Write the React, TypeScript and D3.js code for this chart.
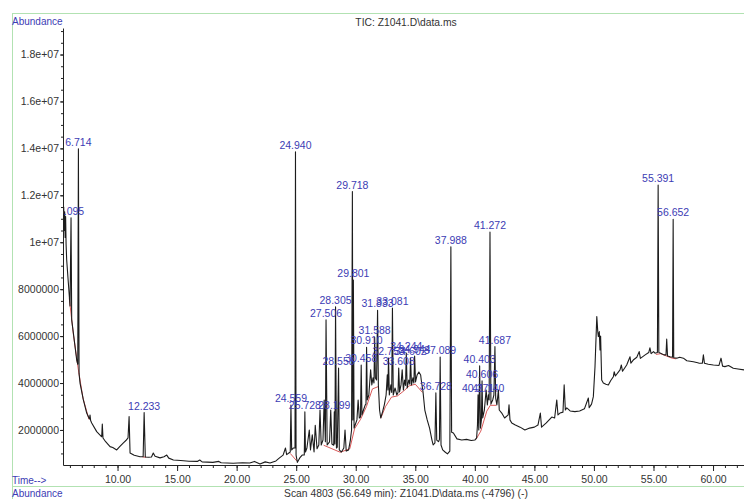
import React, {useEffect, useRef} from "react";
import * as d3 from "d3";

// labelled peaks: retention time label, time (min) and apex abundance (millions)
const peakLabels = [
  "6.095", "6.714", "12.233", "24.559", "24.940", "25.728", "27.506", "28.199",
  "28.305", "28.558", "29.718", "29.801", "30.458", "30.910", "31.588", "31.833",
  "32.753", "33.081", "33.608", "34.244", "34.602", "34.944", "36.728", "37.089",
  "37.988", "40.271", "40.403", "40.606", "41.140", "41.272", "41.687", "55.391", "56.652",
];
const peakTimes = [
  6.095, 6.714, 12.233, 24.559, 24.94, 25.728, 27.506, 28.199,
  28.305, 28.558, 29.718, 29.801, 30.458, 30.91, 31.588, 31.833,
  32.753, 33.081, 33.608, 34.244, 34.602, 34.944, 36.728, 37.089,
  37.988, 40.271, 40.403, 40.606, 41.14, 41.272, 41.687, 55.391, 56.652,
];
const peakTops = [
  11.04, 13.98, 2.74, 3.06, 13.85, 2.77, 6.69, 2.77,
  7.25, 4.64, 12.16, 8.39, 4.77, 5.52, 5.95, 7.1,
  5.07, 7.2, 4.64, 5.28, 5.07, 5.15, 3.58, 5.11,
  9.81, 3.5, 4.73, 4.09, 3.5, 10.43, 5.55, 12.44, 10.98,
];

// rest of the TIC trace, [time (min), abundance (millions)]
const traceBase: [number, number][] = [
  [5.43, 11.0], [5.48, 11.5], [5.52, 10.5], [5.56, 11.3], [5.6, 10.2], [5.64, 11.1], [5.68, 9.9],
  [5.73, 9.24], [5.87, 8.26], [6.01, 7.28], [6.15, 6.69], [6.29, 6.13], [6.57, 4.98], [6.66, 4.8],
  [6.77, 4.4], [6.85, 4.0], [7.13, 3.28], [7.41, 2.72], [7.64, 2.47], [7.69, 2.64], [7.74, 2.4],
  [7.83, 2.3], [8.25, 1.93], [8.67, 1.71], [8.72, 2.25], [8.78, 1.66], [9.0, 1.5], [9.37, 1.29],
  [9.6, 1.25], [9.93, 1.15], [10.2, 1.3], [10.49, 1.45], [10.7, 1.55], [10.88, 1.66], [10.97, 2.57],
  [11.05, 1.02], [11.4, 0.92], [11.89, 0.86], [12.15, 0.86], [12.33, 0.85], [12.6, 0.84], [12.85, 0.85],
  [13.0, 1.02], [13.15, 0.88], [13.57, 0.81], [13.9, 0.86], [14.13, 0.93], [14.3, 0.8], [14.69, 0.72],
  [15.3, 0.7], [16.0, 0.67], [16.7, 0.66], [16.9, 0.72], [17.1, 0.64], [18.0, 0.62], [18.5, 0.66],
  [18.7, 0.6], [19.7, 0.58], [20.5, 0.6], [21.1, 0.59], [21.5, 0.66], [21.96, 0.55], [22.4, 0.64],
  [22.8, 0.59], [23.3, 0.68], [23.6, 0.81], [23.9, 0.93], [24.1, 1.23], [24.2, 0.95], [24.5, 1.06],
  [24.62, 1.15], [24.75, 1.23], [24.9, 1.23], [24.99, 0.93], [25.1, 0.62], [25.3, 0.81], [25.5, 0.93],
  [25.68, 0.93], [25.78, 1.06], [25.9, 1.23], [26.1, 2.0], [26.2, 1.15], [26.35, 1.79], [26.5, 1.06],
  [26.6, 2.2], [26.75, 1.2], [26.9, 1.36], [27.0, 2.85], [27.1, 1.36], [27.25, 1.57], [27.35, 3.28],
  [27.45, 1.5], [27.6, 1.36], [27.8, 1.49], [27.9, 2.85], [28.0, 1.4], [28.15, 1.35], [28.25, 1.4],
  [28.38, 1.23], [28.45, 1.27], [28.62, 1.15], [28.8, 1.06], [29.0, 1.23], [29.1, 2.0], [29.2, 1.1],
  [29.4, 1.15], [29.55, 1.57], [29.65, 2.0], [29.76, 2.43], [29.86, 2.08], [29.95, 2.21], [30.1, 2.43],
  [30.2, 3.28], [30.3, 2.51], [30.4, 2.55], [30.52, 2.64], [30.65, 2.85], [30.8, 3.07], [30.86, 3.1],
  [30.97, 3.28], [31.1, 3.49], [31.25, 4.56], [31.35, 3.92], [31.45, 4.22], [31.53, 4.0], [31.65, 4.22],
  [31.75, 4.13], [31.9, 3.92], [32.0, 2.85], [32.1, 2.51], [32.25, 2.77], [32.4, 3.07], [32.55, 3.49],
  [32.65, 4.35], [32.7, 3.7], [32.82, 3.49], [32.95, 3.92], [33.02, 3.6], [33.15, 3.49], [33.3, 3.79],
  [33.45, 3.49], [33.55, 3.6], [33.68, 3.62], [33.8, 3.92], [33.9, 4.56], [34.0, 3.7], [34.1, 4.13],
  [34.18, 3.9], [34.32, 3.79], [34.45, 4.13], [34.54, 3.95], [34.68, 3.92], [34.8, 4.22], [34.88, 4.0],
  [35.02, 4.05], [35.15, 4.34], [35.3, 4.47], [35.45, 4.34], [35.5, 4.13], [35.65, 3.62], [35.8, 2.85],
  [36.0, 2.43], [36.2, 2.08], [36.4, 1.57], [36.5, 1.36], [36.65, 1.45], [36.8, 1.57], [36.95, 1.5],
  [37.03, 1.6], [37.16, 1.36], [37.3, 1.15], [37.5, 1.06], [37.7, 0.98], [37.9, 1.1], [38.05, 1.9],
  [38.2, 1.87], [38.5, 1.62], [38.9, 1.57], [39.3, 1.6], [39.7, 1.55], [40.0, 1.57], [40.15, 1.66],
  [40.22, 2.21], [40.33, 2.0], [40.47, 2.08], [40.55, 2.43], [40.66, 2.51], [40.8, 2.85], [40.95, 3.7],
  [41.05, 3.07], [41.2, 3.28], [41.35, 3.1], [41.5, 3.28], [41.6, 3.49], [41.75, 3.36], [41.85, 3.07],
  [41.98, 3.7], [42.05, 2.85], [42.26, 2.72], [42.5, 2.51], [42.8, 2.64], [42.87, 3.07], [42.95, 2.43],
  [43.1, 2.3], [43.4, 2.21], [43.8, 2.12], [44.2, 2.0], [44.6, 2.08], [45.0, 2.12], [45.3, 2.21],
  [45.5, 2.72], [45.6, 2.12], [46.0, 2.3], [46.46, 2.55], [46.7, 2.51], [46.88, 3.28], [46.98, 2.64],
  [47.15, 2.72], [47.4, 2.76], [47.5, 3.92], [47.6, 2.85], [47.72, 2.94], [48.0, 2.81], [48.4, 2.78],
  [48.8, 2.81], [49.2, 2.9], [49.53, 3.36], [49.6, 2.95], [49.8, 3.1], [49.95, 3.42], [50.09, 4.7],
  [50.24, 6.83], [50.32, 6.2], [50.37, 5.98], [50.45, 6.19], [50.51, 5.41], [50.56, 6.0], [50.65, 4.13],
  [50.79, 4.0], [51.0, 3.95], [51.21, 3.92], [51.4, 4.1], [51.63, 4.27], [51.7, 4.48], [51.8, 4.3],
  [52.19, 4.56], [52.3, 4.77], [52.4, 4.5], [52.75, 4.77], [53.03, 5.12], [53.1, 4.85], [53.3, 4.98],
  [53.6, 5.1], [53.8, 5.34], [53.9, 5.05], [54.3, 5.2], [54.6, 5.3], [54.7, 5.5], [54.8, 5.25],
  [55.0, 5.34], [55.13, 5.27], [55.33, 5.3], [55.45, 5.3], [55.6, 5.27], [55.88, 5.2], [56.05, 5.2],
  [56.11, 5.87], [56.18, 5.15], [56.39, 5.12], [56.6, 5.1], [56.7, 5.08], [56.95, 5.06], [57.2, 5.1],
  [57.51, 5.06], [57.8, 4.95], [58.35, 4.91], [58.8, 4.85], [59.1, 4.84], [59.19, 5.2], [59.28, 4.84],
  [59.6, 4.8], [60.03, 4.77], [60.5, 4.75], [60.67, 5.06], [60.8, 4.72], [61.0, 4.7], [61.3, 4.75],
  [61.7, 4.63], [62.1, 4.6], [62.6, 4.56],
];

// red integration baselines under the integrated peaks
const integrationBaselines: [number, number][][] = [
  [[5.95, 7.6], [6.3, 6.05], [6.7, 4.6], [7.1, 3.35], [7.6, 2.45]],
  [[12.1, 0.85], [12.4, 0.84]],
  [[24.5, 1.0], [25.05, 0.68]],
  [[27.3, 1.35], [28.0, 1.2], [28.7, 1.05], [29.5, 1.2], [29.9, 2.05], [30.4, 2.45], [30.9, 3.0], [31.4, 3.75], [31.9, 3.85]],
  [[32.1, 2.5], [32.5, 3.0], [33.0, 3.4], [33.5, 3.45], [34.0, 3.65], [34.5, 3.88], [35.0, 3.95], [35.6, 3.6]],
  [[40.1, 1.6], [40.5, 1.95], [41.0, 2.8], [41.3, 3.05], [41.8, 3.05]],
  [[55.2, 5.22], [55.6, 5.25], [56.5, 5.07], [56.9, 5.03]],
];

const xMajorTicks = [10, 15, 20, 25, 30, 35, 40, 45, 50, 55, 60];
const xTickLabels = ["10.00", "15.00", "20.00", "25.00", "30.00", "35.00", "40.00", "45.00", "50.00", "55.00", "60.00"];
const yMajorTicks = [2, 4, 6, 8, 10, 12, 14, 16, 18];
const yTickLabels = ["2000000", "4000000", "6000000", "8000000", "1e+07", "1.2e+07", "1.4e+07", "1.6e+07", "1.8e+07"];

const font = "'Liberation Sans', Arial, sans-serif";
const blue = "#3c3cb4";
const grey = "#333";
const green = "#b2e2b2";

export default function App() {
  const ref = useRef<SVGSVGElement>(null);
  const width = 744;
  const height = 499;
  const left = 63, right = 744, top = 28, bottom = 465;

  useEffect(() => {
    const svg = d3.select(ref.current);
    svg.selectAll("*").remove();

    const x = d3.scaleLinear().domain([5.42, 62.6]).range([left, right]);
    const y = d3.scaleLinear().domain([0.507, 19.13]).range([bottom, top]);

    svg.append("defs").append("clipPath").attr("id", "plot-clip")
      .append("rect").attr("x", left).attr("y", 0).attr("width", right - left).attr("height", bottom);

    // green frame
    const frame = svg.append("g").attr("stroke", green).attr("stroke-width", 1);
    frame.append("line").attr("x1", 12).attr("x2", width).attr("y1", 13.5).attr("y2", 13.5);
    frame.append("line").attr("x1", 12.5).attr("x2", 12.5).attr("y1", 13).attr("y2", height);
    frame.append("line").attr("x1", 12).attr("x2", width).attr("y1", 486.5).attr("y2", 486.5);

    // axes
    const xMinor = svg.append("g").attr("transform", `translate(0,${bottom})`)
      .call(d3.axisBottom(x).tickValues(d3.range(6, 63)).tickSize(3).tickSizeOuter(0).tickFormat(() => ""));
    xMinor.select(".domain").remove();
    const xAxis = svg.append("g").attr("transform", `translate(0,${bottom})`)
      .call(d3.axisBottom(x).tickValues(xMajorTicks).tickSize(6).tickSizeOuter(0).tickPadding(5)
        .tickFormat((d, i) => xTickLabels[i]));

    const yMinor = svg.append("g").attr("transform", `translate(${left},0)`)
      .call(d3.axisLeft(y).tickValues(d3.range(1, 19.1, 0.5)).tickSize(2).tickSizeOuter(0).tickFormat(() => ""));
    yMinor.select(".domain").remove();
    const yAxis = svg.append("g").attr("transform", `translate(${left},0)`)
      .call(d3.axisLeft(y).tickValues(yMajorTicks).tickSize(3).tickSizeOuter(0).tickPadding(1)
        .tickFormat((d, i) => yTickLabels[i]));

    [xMinor, xAxis, yMinor, yAxis].forEach(g => {
      g.attr("font-family", font).attr("font-size", 10.5);
      g.selectAll("line, path").attr("stroke", "#222");
      g.selectAll("text").attr("fill", grey);
    });

    // trace
    const plot = svg.append("g").attr("clip-path", "url(#plot-clip)");
    const trace = traceBase
      .concat(peakTimes.map((t, i) => [t, peakTops[i]] as [number, number]))
      .sort((a, b) => a[0] - b[0]);
    const line = d3.line<[number, number]>().x(d => x(d[0])).y(d => y(d[1]));

    plot.selectAll("path.baseline")
      .data(integrationBaselines)
      .join("path")
      .attr("class", "baseline")
      .attr("d", line)
      .attr("fill", "none")
      .attr("stroke", "#d23c3c")
      .attr("stroke-width", 1)
      .attr("stroke-opacity", 0.85);

    plot.append("path").datum(trace)
      .attr("d", line)
      .attr("fill", "none")
      .attr("stroke", "#1c1c1c")
      .attr("stroke-width", 1.1)
      .attr("stroke-linejoin", "round");

    // peak labels
    plot.selectAll("text.peak")
      .data(peakLabels)
      .join("text")
      .attr("class", "peak")
      .attr("x", (d, i) => x(peakTimes[i]))
      .attr("y", (d, i) => y(peakTops[i]) - 3)
      .attr("text-anchor", "middle")
      .attr("font-family", font)
      .attr("font-size", 10.5)
      .attr("fill", blue)
      .text(d => d);

    // header and footer texts
    const texts = [
      {t: "Abundance", x: 12, y: 25, anchor: "start", fill: blue, size: 10},
      {t: "TIC: Z1041.D\\data.ms", x: 406, y: 26, anchor: "middle", fill: grey, size: 10.3},
      {t: "Time-->", x: 12, y: 484, anchor: "start", fill: blue, size: 10},
      {t: "Abundance", x: 12, y: 497, anchor: "start", fill: blue, size: 10},
      {t: "Scan 4803 (56.649 min): Z1041.D\\data.ms (-4796) (-)", x: 406, y: 497, anchor: "middle", fill: grey, size: 10.3},
    ];
    svg.selectAll("text.label")
      .data(texts)
      .join("text")
      .attr("class", "label")
      .attr("x", d => d.x)
      .attr("y", d => d.y)
      .attr("text-anchor", d => d.anchor)
      .attr("font-family", font)
      .attr("font-size", d => d.size)
      .attr("fill", d => d.fill)
      .text(d => d.t);
  }, []);

  return (
    <svg ref={ref} width={width} height={height}
      style={{position: "absolute", left: 0, top: 0, background: "#fff", display: "block"}}/>
  );
}
